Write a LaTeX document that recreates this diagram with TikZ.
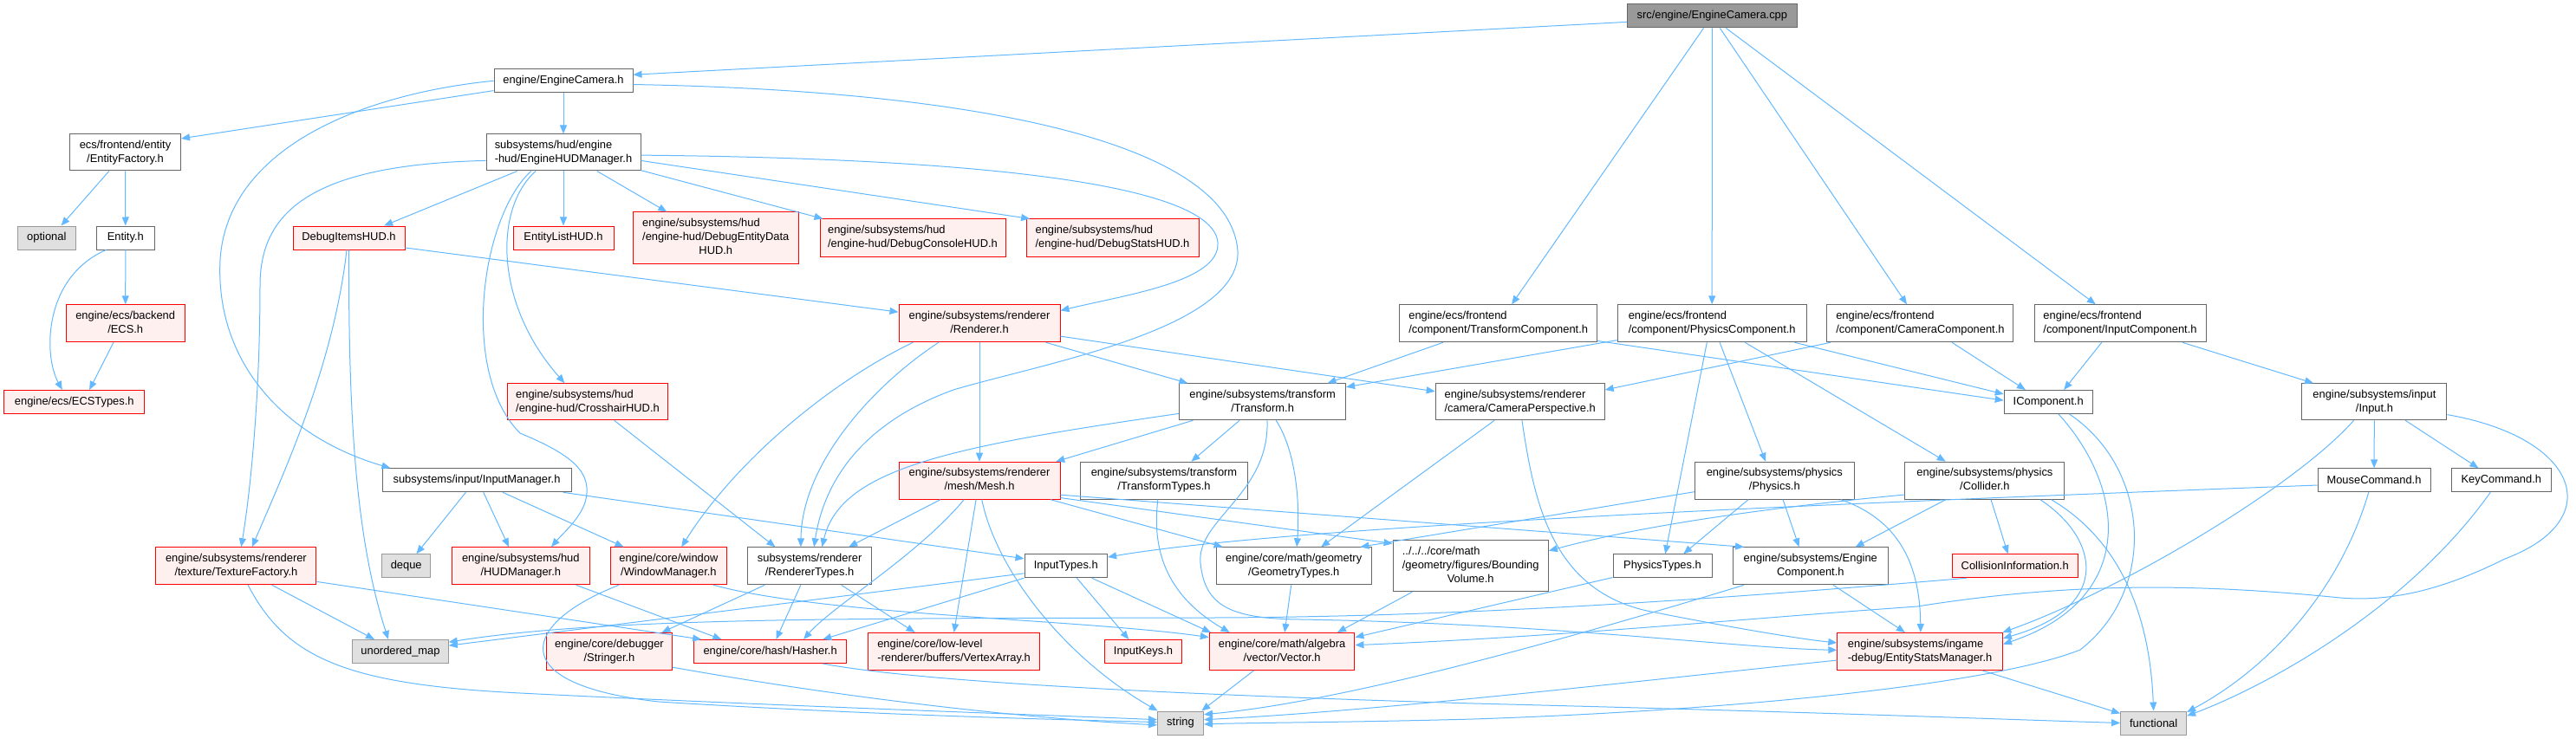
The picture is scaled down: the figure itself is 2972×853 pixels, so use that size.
\documentclass[tikz,border=0pt]{standalone}
\usepackage{fontspec}
\setmainfont{Liberation Sans}
\usepackage{tikz}
\usetikzlibrary{arrows.meta}

\definecolor{edgeblue}{HTML}{63B8FF}
\definecolor{nodegray}{HTML}{666666}
\definecolor{redfill}{HTML}{FFF0F0}
\definecolor{sysfill}{HTML}{E0E0E0}
\definecolor{sysline}{HTML}{999999}
\definecolor{rootfill}{HTML}{999999}

\newcommand{\graphfont}{\fontsize{12.9}{16}\selectfont}
\newcommand{\twoline}[2]{\begin{tabular}{@{}l@{}}#1\\\multicolumn{1}{@{}c@{}}{#2}\end{tabular}}
\newcommand{\threeline}[3]{\begin{tabular}{@{}l@{}}#1\\#2\\\multicolumn{1}{@{}c@{}}{#3}\end{tabular}}

\begin{document}
\begin{tikzpicture}[x=1pt, y=-1pt,
		box/.style={draw=nodegray, fill=white, line width=1pt, inner sep=0pt, font=\graphfont},
		hfile/.style={box},
		redfile/.style={box, draw=red, fill=redfill},
		sysfile/.style={box, draw=sysline, fill=sysfill},
		rootfile/.style={box, draw=nodegray, fill=rootfill},
		dims/.style 2 args={minimum width=#1pt, minimum height=#2pt},
		dep/.style={edgeblue, line width=1pt, -{Triangle[length=10pt,width=8pt]}}]
		
		\useasboundingbox (0,0) rectangle (2972,853);
		
		% files, row by row
		\node[rootfile, dims={195.5}{27}] (cpp) at (1975.3,18.5) {src/engine/EngineCamera.cpp};
		\node[hfile, dims={160}{27}] (camh) at (650,93.3) {engine/EngineCamera.h};
		
		\node[hfile, dims={128}{42}] (entfact) at (144.5,176) {\twoline{ecs/frontend/entity}{/EntityFactory.h}};
		\node[hfile, dims={178}{42}] (hudengine) at (650,176) {\twoline{subsystems/hud/engine}{-hud/EngineHUDManager.h}};
		
		\node[sysfile, dims={67}{27}] (optional) at (53.8,274.5) {optional};
		\node[hfile, dims={66.5}{27}] (entity) at (144.8,274.5) {Entity.h};
		\node[redfile, dims={129}{27}] (dbgitems) at (402.5,274.5) {DebugItemsHUD.h};
		\node[redfile, dims={116}{27}] (entlist) at (650,274.5) {EntityListHUD.h};
		\node[redfile, dims={190.5}{59}] (dbgentity) at (825.8,274.5) {\threeline{engine/subsystems/hud}{/engine-hud/DebugEntityData}{HUD.h}};
		\node[redfile, dims={214}{43}] (dbgconsole) at (1053,274.5) {\twoline{engine/subsystems/hud}{/engine-hud/DebugConsoleHUD.h}};
		\node[redfile, dims={199}{43}] (dbgstats) at (1283.5,274.5) {\twoline{engine/subsystems/hud}{/engine-hud/DebugStatsHUD.h}};
		
		\node[redfile, dims={137}{43}] (ecs) at (144.7,373.3) {\twoline{engine/ecs/backend}{/ECS.h}};
		\node[redfile, dims={186}{43}] (renderer) at (1130,373.3) {\twoline{engine/subsystems/renderer}{/Renderer.h}};
		\node[hfile, dims={228}{43}] (tcomp) at (1728.7,373.3) {\twoline{engine/ecs/frontend}{/component/TransformComponent.h}};
		\node[hfile, dims={218}{43}] (pcomp) at (1975.2,373.3) {\twoline{engine/ecs/frontend}{/component/PhysicsComponent.h}};
		\node[hfile, dims={215}{43}] (ccomp) at (2215.4,373.3) {\twoline{engine/ecs/frontend}{/component/CameraComponent.h}};
		\node[hfile, dims={198}{43}] (icomp) at (2446,373.3) {\twoline{engine/ecs/frontend}{/component/InputComponent.h}};
		
		\node[redfile, dims={162}{27}] (ecstypes) at (85.8,464) {engine/ecs/ECSTypes.h};
		\node[redfile, dims={185}{42}] (crosshair) at (678,463.8) {\twoline{engine/subsystems/hud}{/engine-hud/CrosshairHUD.h}};
		\node[hfile, dims={192}{42}] (transform) at (1456.6,463.8) {\twoline{engine/subsystems/transform}{/Transform.h}};
		\node[hfile, dims={195}{42}] (camper) at (1753.7,463.8) {\twoline{engine/subsystems/renderer}{/camera/CameraPerspective.h}};
		\node[hfile, dims={102}{27}] (icomponent) at (2363.2,464) {IComponent.h};
		\node[hfile, dims={167}{42}] (input) at (2739.4,463.8) {\twoline{engine/subsystems/input}{/Input.h}};
		
		\node[hfile, dims={218}{27}] (inmgr) at (550,554.3) {subsystems/input/InputManager.h};
		\node[redfile, dims={186}{43}] (mesh) at (1130,554.7) {\twoline{engine/subsystems/renderer}{/mesh/Mesh.h}};
		\node[hfile, dims={192.5}{43}] (ttypes) at (1343,554.7) {\twoline{engine/subsystems/transform}{/TransformTypes.h}};
		\node[hfile, dims={184}{43}] (physics) at (2047.3,554.7) {\twoline{engine/subsystems/physics}{/Physics.h}};
		\node[hfile, dims={184}{43}] (collider) at (2289.9,554.7) {\twoline{engine/subsystems/physics}{/Collider.h}};
		\node[hfile, dims={130}{27}] (mouse) at (2739,554.3) {MouseCommand.h};
		\node[hfile, dims={114.4}{27}] (key) at (2885.8,554.3) {KeyCommand.h};
		
		\node[redfile, dims={185}{43}] (texfact) at (272.4,653.3) {\twoline{engine/subsystems/renderer}{/texture/TextureFactory.h}};
		\node[sysfile, dims={56}{27}] (deque) at (468.7,653.3) {deque};
		\node[redfile, dims={159.5}{43}] (hudmgr) at (600.8,653.3) {\twoline{engine/subsystems/hud}{/HUDManager.h}};
		\node[redfile, dims={134}{43}] (winmgr) at (771.4,653.3) {\twoline{engine/core/window}{/WindowManager.h}};
		\node[hfile, dims={143}{43}] (rtypes) at (934.1,653.3) {\twoline{subsystems/renderer}{/RendererTypes.h}};
		\node[hfile, dims={95.6}{27}] (intypes) at (1229.8,653.3) {InputTypes.h};
		\node[hfile, dims={179.3}{43}] (geom) at (1492.7,653.3) {\twoline{engine/core/math/geometry}{/GeometryTypes.h}};
		\node[hfile, dims={179.3}{59}] (bvol) at (1696.7,653.3) {\threeline{../../../core/math}{/geometry/figures/Bounding}{Volume.h}};
		\node[hfile, dims={114}{27}] (ptypes) at (1918,653.3) {PhysicsTypes.h};
		\node[hfile, dims={178.4}{43}] (engcomp) at (2088.8,653.3) {\twoline{engine/subsystems/Engine}{Component.h}};
		\node[redfile, dims={145}{27}] (collinfo) at (2324.7,653.3) {CollisionInformation.h};
		
		\node[sysfile, dims={110.5}{27}] (umap) at (462,752) {unordered\_map};
		\node[redfile, dims={145}{43}] (stringer) at (703,752) {\twoline{engine/core/debugger}{/Stringer.h}};
		\node[redfile, dims={176}{27}] (hasher) at (888.6,752) {engine/core/hash/Hasher.h};
		\node[redfile, dims={198}{43}] (vertex) at (1100.6,752) {\twoline{engine/core/low-level}{-renderer/buffers/VertexArray.h}};
		\node[redfile, dims={89.6}{27}] (inkeys) at (1319,752) {InputKeys.h};
		\node[redfile, dims={167.6}{43}] (vector) at (1479.1,752) {\twoline{engine/core/math/algebra}{/vector/Vector.h}};
		\node[redfile, dims={190.6}{43}] (stats) at (2215.1,752) {\twoline{engine/subsystems/ingame}{-debug/EntityStatsManager.h}};
		
		\node[sysfile, dims={53}{27}] (string) at (1362,834.5) {string};
		\node[sysfile, dims={76}{27}] (functional) at (2484.6,834.5) {functional};
		
		% root
		\draw[dep] (cpp.-176) -- (camh.5);
		\draw[dep] (cpp.-125) -- (tcomp.55);
		\draw[dep] (cpp.south) -- (pcomp.north);
		\draw[dep] (cpp.-57) -- (ccomp.125);
		\draw[dep] (cpp.-41) -- (icomp.142);
		
		% EngineCamera.h
		\draw[dep] (camh.-172) -- (entfact.14);
		\draw[dep] (camh) -- (hudengine);
		\draw[dep] (camh.west) .. controls (420,108) and (262,170) .. (254,300) .. controls (248,420) and (330,505) .. (inmgr.172);
		\draw[dep] (camh.-3) .. controls (1150,105) and (1420,170) .. (1428,290) .. controls (1432,380) and (1200,420) .. (1100,450) .. controls (990,490) and (950,560) .. (rtypes.77);
		
		% EngineHUDManager.h
		\draw[dep] (hudengine.-158) -- (dbgitems.19);
		\draw[dep] (hudengine) -- (entlist);
		\draw[dep] (hudengine.-29) -- (dbgentity.152);
		\draw[dep] (hudengine.-13) -- (dbgconsole.168);
		\draw[dep] (hudengine.-6) -- (dbgstats.167);
		\draw[dep] (hudengine.-2) .. controls (1150,183) and (1400,215) .. (1405,280) .. controls (1408,325) and (1300,340) .. (renderer.9);
		\draw[dep] (hudengine.186) .. controls (350,190) and (300,250) .. (300,330) .. controls (300,450) and (290,560) .. (texfact.75);
		\draw[dep] (hudengine.-146) .. controls (570,240) and (570,350) .. (crosshair.141);
		\draw[dep] (hudengine.-150) .. controls (555,250) and (530,430) .. (600,500) .. controls (660,525) and (685,545) .. (675,580) .. controls (668,600) and (650,615) .. (hudmgr.32);
		
		% DebugItemsHUD.h
		\draw[dep] (dbgitems.-10) -- (renderer.172);
		\draw[dep] (dbgitems.-100) .. controls (385,420) and (330,540) .. (texfact.50);
		\draw[dep] (dbgitems.-90) .. controls (402,480) and (410,620) .. (umap.135);
		
		% ecs
		\draw[dep] (entfact.-131) -- (optional.40);
		\draw[dep] (entfact) -- (entity);
		\draw[dep] (entity) -- (ecs);
		\draw[dep] (entity.-148) .. controls (50,320) and (50,410) .. (ecstypes.135);
		\draw[dep] (ecs.-122) -- (ecstypes.39);
		
		% Renderer.h
		\draw[dep] (renderer) -- (mesh);
		\draw[dep] (renderer.-16) -- (transform.166);
		\draw[dep] (renderer.-9) -- (camper.173);
		\draw[dep] (renderer.-164) .. controls (960,440) and (850,530) .. (winmgr.56);
		\draw[dep] (renderer.-155) .. controls (1000,450) and (925,540) .. (rtypes.115);
		\draw[dep] (crosshair.-35) -- (rtypes.151);
		
		% Transform.h
		\draw[dep] (transform.-165) -- (mesh.14);
		\draw[dep] (transform.-141) -- (ttypes.35);
		\draw[dep] (transform.-54) .. controls (1495,520) and (1500,580) .. (geom.81);
		\draw[dep] (transform.-172) .. controls (1100,515) and (970,540) .. (rtypes.57);
		\draw[dep] (transform.-76) .. controls (1465,570) and (1380,600) .. (1385,650) .. controls (1390,700) and (1420,714) .. (1500,715) .. controls (1800,720) and (2000,748) .. (stats.179);
		
		% components
		\draw[dep] (tcomp.-161) -- (transform.16);
		\draw[dep] (tcomp.-10) -- (icomponent.178);
		\draw[dep] (pcomp.-170) -- (transform.10);
		\draw[dep] (pcomp.-13) -- (icomponent.170);
		\draw[dep] (pcomp.-105) -- (ptypes.77);
		\draw[dep] (pcomp.-68) -- (physics.115);
		\draw[dep] (pcomp.-30) -- (collider.154);
		\draw[dep] (ccomp.-168) -- (camper.8);
		\draw[dep] (ccomp.-31) -- (icomponent.152);
		\draw[dep] (icomp.-134) -- (icomponent.38);
		\draw[dep] (icomp.-17) -- (input.163);
		
		% CameraPerspective.h
		\draw[dep] (camper.-144) -- (geom.35);
		\draw[dep] (camper.-84) .. controls (1770,580) and (1790,680) .. (1900,705) .. controls (2000,725) and (2080,738) .. (stats.174);
		
		% physics
		\draw[dep] (physics.-172) -- (geom.16);
		\draw[dep] (physics.-144) -- (ptypes.30);
		\draw[dep] (physics.-66) -- (engcomp.121);
		\draw[dep] (physics.-16) .. controls (2190,600) and (2215,650) .. (stats.88);
		\draw[dep] (collider.-170) .. controls (2050,585) and (1900,605) .. (bvol.11);
		\draw[dep] (collider.-154) -- (engcomp.23);
		\draw[dep] (collider.-72) -- (collinfo.120);
		\draw[dep] (collider.-19) .. controls (2420,620) and (2440,700) .. (stats.9);
		\draw[dep] (collider.-16) .. controls (2440,620) and (2480,700) .. (functional.north);
		
		% input
		\draw[dep] (input) -- (mouse);
		\draw[dep] (input.-31) -- (key.152);
		\draw[dep] (input.-138) .. controls (2650,560) and (2450,680) .. (stats.13);
		\draw[dep] (input.-10) .. controls (2975,505) and (3010,600) .. (2890,645) .. controls (2820,680) and (2760,695) .. (2700,690) .. controls (2550,675) and (2400,670) .. (2212,700) .. controls (2000,715) and (1800,735) .. (vector.5);
		\draw[dep] (mouse.-175) .. controls (2200,578) and (1500,605) .. (intypes.12);
		\draw[dep] (mouse.-114) .. controls (2700,680) and (2620,770) .. (functional.18);
		\draw[dep] (key.-132) .. controls (2780,700) and (2620,790) .. (functional.12);
		
		% IComponent.h
		\draw[dep] (icomponent.-50) .. controls (2450,560) and (2470,690) .. (stats.5);
		\draw[dep] (icomponent.-30) .. controls (2480,540) and (2490,680) .. (2400,750) .. controls (2300,790) and (2000,820) .. (1700,830) .. controls (1550,834) and (1450,834) .. (string.-3);
		
		% lower rows
		\draw[dep] (engcomp.-164) .. controls (1800,740) and (1550,810) .. (string.20);
		\draw[dep] (engcomp.-40) -- (stats.128);
		\draw[dep] (stats.-174) .. controls (1900,785) and (1600,820) .. (string.8);
		\draw[dep] (stats.-17) -- (functional.164);
		\draw[dep] (collinfo.-166) .. controls (2000,690) and (1700,712) .. (1400,713) .. controls (1000,714) and (700,712) .. (umap.11);
		
		\draw[dep] (geom) -- (vector);
		\draw[dep] (bvol.-156) -- (vector.19);
		\draw[dep] (ptypes.-167) -- (vector.11);
		\draw[dep] (ttypes.-108) .. controls (1328,640) and (1350,690) .. (vector.160);
		\draw[dep] (vector.-146) -- (string.30);
		
		%Mesh.h
		\draw[dep] (mesh.-154) -- (rtypes.26);
		\draw[dep] (mesh.-129) .. controls (1060,640) and (960,700) .. (hasher.20);
		\draw[dep] (mesh.-100) -- (vertex.north);
		\draw[dep] (mesh.-83) .. controls (1150,660) and (1230,760) .. (string.152);
		\draw[dep] (mesh.-15) -- (geom.165);
		\draw[dep] (mesh.-12) -- (bvol.164);
		\draw[dep] (mesh.-10) -- (engcomp.164);
		
		\draw[dep] (rtypes.-157) -- (stringer.20);
		\draw[dep] (rtypes.-115) -- (hasher.64);
		\draw[dep] (rtypes.-31) -- (vertex.154);
		
		\draw[dep] (intypes.-48) -- (inkeys.140);
		\draw[dep] (intypes.-25) -- (vector.165);
		\draw[dep] (intypes.-164) -- (hasher.13);
		\draw[dep] (intypes.-170) -- (umap.7);
		
		% InputManager.h
		\draw[dep] (inmgr.-132) -- (deque.50);
		\draw[dep] (inmgr.-61) -- (hudmgr.122);
		\draw[dep] (inmgr.-25) -- (winmgr.157);
		\draw[dep] (inmgr.-8.5) -- (intypes.170);
		
		% TextureFactory.h
		\draw[dep] (texfact.-28) -- (umap.155);
		\draw[dep] (texfact.-11) -- (hasher.170);
		\draw[dep] (texfact.-58) .. controls (330,760) and (400,790) .. (600,800) .. controls (900,815) and (1200,825) .. (string.172);
		
		\draw[dep] (hudmgr.-19) -- (hasher.166);
		\draw[dep] (winmgr.-23) .. controls (950,710) and (1250,715) .. (vector.169);
		\draw[dep] (winmgr.-159) .. controls (600,720) and (580,790) .. (760,810) .. controls (1000,825) and (1200,830) .. (string.178);
		\draw[dep] (stringer.-14) .. controls (1000,810) and (1200,830) .. (string.185);
		\draw[dep] (hasher.-13) .. controls (1050,785) and (1300,800) .. (1700,812) .. controls (2100,822) and (2300,830) .. (functional.180);
		
	\end{tikzpicture}
\end{document}
